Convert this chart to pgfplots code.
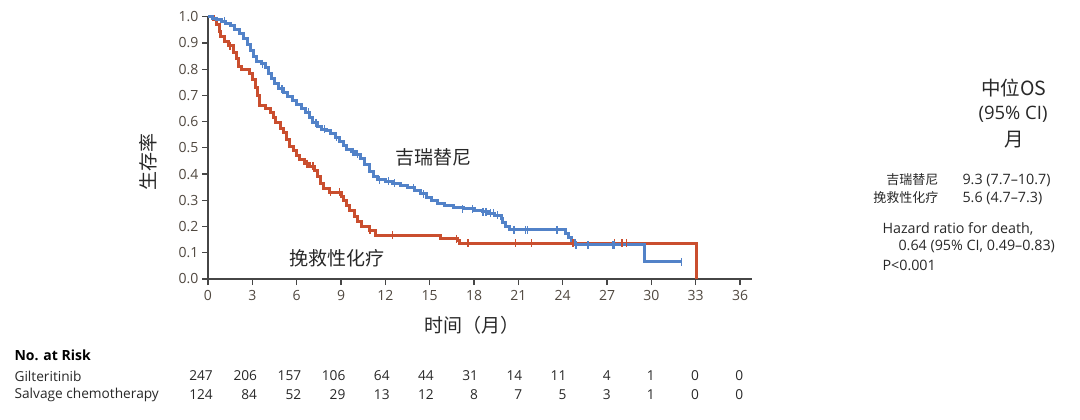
\documentclass[border=0pt]{standalone}
\usepackage{fontspec}
\setmainfont{Open Sans}
\newfontfamily\cjk{Noto Sans CJK SC}
\usepackage{pgfplots}
\pgfplotsset{compat=1.18}
\definecolor{kmblue}{RGB}{82,130,200}
\definecolor{kmred}{RGB}{202,78,46}
\definecolor{axgray}{RGB}{70,70,70}
\definecolor{ticktext}{RGB}{80,72,64}
\definecolor{txt}{RGB}{40,40,40}
\begin{document}
\begin{tikzpicture}
\path[use as bounding box] (0pt,0pt) rectangle (1080pt,-420pt);
\begin{axis}[
  at={(208pt,-279pt)}, anchor=south west,
  scale only axis, width=543.9pt, height=262.3pt,
  xmin=0, xmax=36.8, ymin=0, ymax=1,
  axis x line=bottom, axis y line=left,
  axis line style={-, draw=axgray, line width=1.6pt},
  xtick={0,3,...,36}, ytick={0,0.1,...,1.0},
  yticklabel style={/pgf/number format/.cd, fixed, fixed zerofill, precision=1},
  /pgf/number format/assume math mode=true,
  tick align=outside, major tick length=6pt,
  tick style={draw=axgray, line width=1.2pt},
  tick label style={font=\fontsize{14}{14}\selectfont, text=ticktext},
  xticklabel style={yshift=-2pt},
  clip=false,
]
\addplot[const plot, kmred, line width=3pt] coordinates {
(0,1.0) (0.4,0.99) (0.6,0.97) (0.75,0.945) (0.85,0.925) (1.1,0.905) (1.4,0.89)
(1.7,0.865) (1.9,0.84) (2.05,0.81) (2.3,0.8) (2.8,0.785) (3.0,0.76) (3.2,0.73)
(3.35,0.7) (3.5,0.66) (3.9,0.65) (4.2,0.635) (4.4,0.615) (4.6,0.595) (4.9,0.575)
(5.1,0.56) (5.3,0.53) (5.5,0.505) (5.8,0.49) (6.0,0.47) (6.2,0.455) (6.5,0.44)
(6.9,0.43) (7.2,0.415) (7.4,0.39) (7.6,0.365) (7.8,0.345) (8.2,0.33) (9.0,0.315)
(9.2,0.3) (9.4,0.28) (9.6,0.26) (9.9,0.24) (10.1,0.22) (10.4,0.2) (10.9,0.185)
(11.3,0.166) (15.7,0.153) (16.85,0.145) (17.0,0.137) (33.06,0.137) (33.06,0)
};
\addplot[only marks, mark=|, mark size=4pt, kmred, mark options={line width=1.4pt}] coordinates {
(1.5,0.89) (6.7,0.44) (7.1,0.43) (8.3,0.33) (8.9,0.33) (10.95,0.185) (12.5,0.166)
(16.8,0.153) (17.6,0.137) (20.8,0.137) (21.9,0.137) (24.7,0.137) (27.5,0.137)
(28.0,0.137) (28.3,0.137)
};
\addplot[const plot, kmblue, line width=3pt] coordinates {
(0,1.0) (0.3,0.995) (0.6,0.99) (0.9,0.983) (1.2,0.975) (1.5,0.965) (1.8,0.95)
(2.1,0.935) (2.4,0.915) (2.7,0.895) (2.9,0.87) (3.1,0.85) (3.3,0.83) (3.6,0.82)
(3.9,0.805) (4.1,0.785) (4.3,0.765) (4.5,0.745) (4.8,0.725) (5.1,0.71) (5.4,0.695)
(5.7,0.68) (6.0,0.665) (6.3,0.65) (6.6,0.635) (6.9,0.615) (7.1,0.595) (7.4,0.58)
(7.7,0.57) (8.0,0.565) (8.3,0.555) (8.6,0.54) (8.9,0.525) (9.2,0.51) (9.4,0.495)
(9.7,0.485) (10.0,0.475) (10.3,0.46) (10.6,0.435) (10.9,0.41) (11.2,0.39)
(11.5,0.378) (12.0,0.372) (12.5,0.365) (13.0,0.355) (13.5,0.347) (14.0,0.338)
(14.4,0.325) (14.8,0.31) (15.1,0.298) (15.5,0.288) (16.0,0.28) (16.6,0.272)
(17.3,0.267) (18.0,0.262) (18.6,0.256) (19.0,0.25) (19.4,0.243) (19.85,0.232)
(19.95,0.215) (20.1,0.2) (20.4,0.187) (24.2,0.172) (24.4,0.158) (24.6,0.145)
(24.8,0.13) (29.55,0.065) (32.05,0.065)
};
\addplot[only marks, mark=|, mark size=4pt, kmblue, mark options={line width=1.4pt}] coordinates {
(1.1,0.983) (3.7,0.82) (5.0,0.725) (6.8,0.635) (7.3,0.595) (7.9,0.57) (8.7,0.54)
(9.8,0.485) (10.1,0.475) (11.6,0.378) (12.2,0.372) (12.6,0.365) (13.9,0.347)
(14.6,0.325) (17.2,0.267) (17.9,0.267) (18.6,0.256) (18.8,0.256) (19.1,0.25)
(19.3,0.25) (19.6,0.243) (20.7,0.187) (21.5,0.187) (21.6,0.187) (23.6,0.187)
(24.9,0.13) (25.7,0.13) (27.4,0.13) (27.5,0.13) (32.05,0.065)
};
\end{axis}
\begin{scope}[x=1pt,y=-1pt]
\node[rotate=90, text=txt, font=\cjk\fontsize{19}{19}\selectfont] at (148,162) {生存率};
\node[text=txt, font=\cjk\fontsize{19}{19}\selectfont] at (433,157) {吉瑞替尼};
\node[text=txt, font=\cjk\fontsize{19}{19}\selectfont] at (337,258) {挽救性化疗};
\node[text=txt, font=\cjk\fontsize{19}{19}\selectfont] at (472,325) {时间（月）};
% right panel
\node[text=txt, font=\cjk\fontsize{19.5}{19.5}\selectfont] at (1014,88) {中位OS};
\node[text=txt, font=\fontsize{18.5}{18.5}\selectfont] at (1013,114) {(95\% CI)};
\node[text=txt, font=\cjk\fontsize{19.5}{19.5}\selectfont] at (1014,140) {月};
\node[anchor=east, text=txt, font=\cjk\fontsize{13}{13}\selectfont] at (942,180) {吉瑞替尼};
\node[anchor=east, text=txt, font=\cjk\fontsize{13}{13}\selectfont] at (942,198) {挽救性化疗};
\node[anchor=west, text=txt, font=\fontsize{14.3}{14.3}\selectfont] at (959,180) {9.3 (7.7–10.7)};
\node[anchor=west, text=txt, font=\fontsize{14.3}{14.3}\selectfont] at (959,198) {5.6 (4.7–7.3)};
\node[anchor=west, text=txt, font=\fontsize{14.3}{14.3}\selectfont] at (879,229) {Hazard ratio for death,};
\node[anchor=west, text=txt, font=\fontsize{14.3}{14.3}\selectfont] at (895,246) {0.64 (95\% CI, 0.49–0.83)};
\node[anchor=west, text=txt, font=\fontsize{14.3}{14.3}\selectfont] at (879,265) {P<0.001};
% risk table
\node[anchor=west, text=black, font=\bfseries\fontsize{14}{14}\selectfont] at (11,355) {No. at Risk};
\node[anchor=west, text=txt, font=\fontsize{13.7}{13.7}\selectfont] at (11,376) {Gilteritinib};
\node[anchor=west, text=txt, font=\fontsize{13.7}{13.7}\selectfont] at (11,395) {Salvage chemotherapy};
\foreach \v [count=\i from 0] in {247,206,157,106,64,44,31,14,11,4,1,0,0}
  \node[anchor=east, inner sep=0pt, text=txt, font=\fontsize{13.7}{13.7}\selectfont] at (213+44.2*\i,376) {\v};
\foreach \v [count=\i from 0] in {124,84,52,29,13,12,8,7,5,3,1,0,0}
  \node[anchor=east, inner sep=0pt, text=txt, font=\fontsize{13.7}{13.7}\selectfont] at (213+44.2*\i,395) {\v};
\end{scope}
\end{tikzpicture}
\end{document}
